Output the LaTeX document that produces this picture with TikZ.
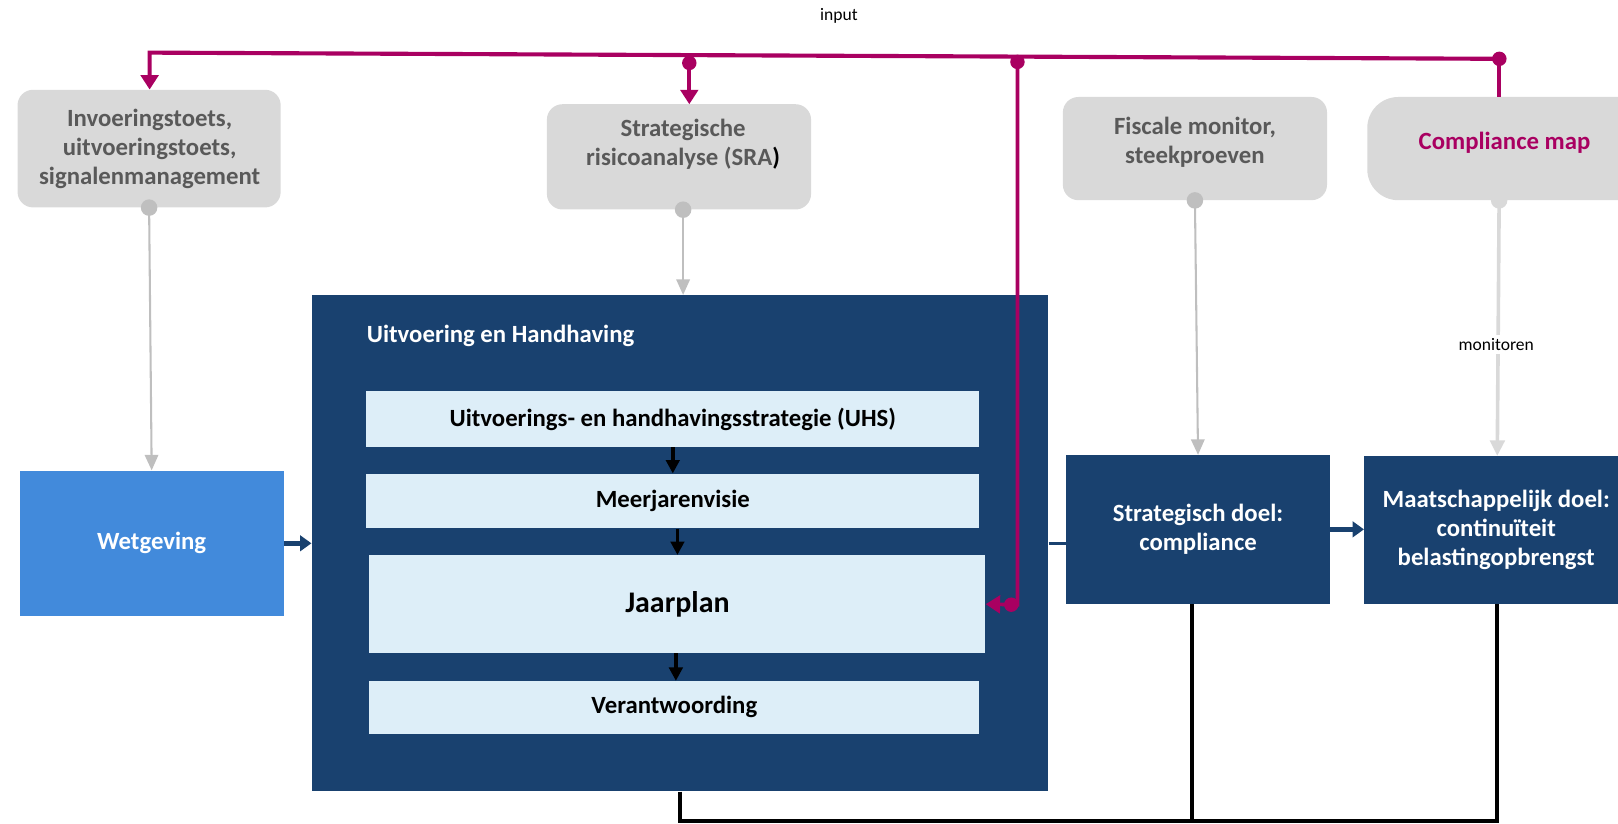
\documentclass[tikz,border=0pt]{standalone}
\usepackage{fontspec}
\setmainfont{Carlito}
\usetikzlibrary{arrows.meta,calc}
\definecolor{navy}{HTML}{19416F}
\definecolor{wetblue}{HTML}{428ADB}
\definecolor{paleblue}{HTML}{DDEEF8}
\definecolor{mag}{HTML}{A90061}
\definecolor{boxgray}{HTML}{D9D9D9}
\definecolor{txtgray}{HTML}{595959}
\definecolor{lngray}{HTML}{BFBFBF}
\begin{document}
\begin{tikzpicture}[x=1pt,y=-1pt,
  graybox/.style={fill=boxgray,draw=none,rounded corners=15pt,inner sep=0pt},
  bigtxt/.style={font=\fontsize{24}{28}\selectfont\bfseries,align=center},
  graytxt/.style={bigtxt,text=txtgray},
  navybox/.style={fill=navy,draw=none,inner sep=0pt,text=white,bigtxt},
  palebox/.style={fill=paleblue,draw=none,inner sep=0pt,bigtxt,text=black},
  smalltxt/.style={font=\fontsize{17}{20}\selectfont,text=black},
  magline/.style={draw=mag,line width=4pt},
  magarrow/.style={magline,-{Triangle[width=17pt,length=14pt]}},
  magdot/.style={fill=mag},
  grayarrow/.style={draw=lngray,line width=2pt,-{Triangle[width=13pt,length=15pt]}},
  lightarrow/.style={draw=boxgray,line width=3.5pt,-{Triangle[width=14pt,length=15pt]}},
  navyarrow/.style={draw=navy,line width=5pt,-{Triangle[width=15pt,length=11pt]}},
  blackarrow/.style={draw=black,line width=3.5pt,-{Triangle[width=13pt,length=13pt]}},
  fbline/.style={draw=black,line width=4pt}
]
\useasboundingbox (0,0) rectangle (1568,798);
\clip (0,0) rectangle (1568,798);

% top gray boxes
\node[graybox,minimum width=255pt,minimum height=114pt] (inv) at (144.5,144) {};
\node[graytxt] (invt) at (145,144) {Invoeringstoets,\\uitvoeringstoets,\\signalenmanagement};
\node[graybox,minimum width=256pt,minimum height=102pt] (sra) at (658,152) {};
\node[graytxt] (srat) at (662,140) {Strategische\\risicoanalyse (SRA\textcolor{black}{)}};
\node[graybox,minimum width=256pt,minimum height=100pt] (fis) at (1158,144) {};
\node[graytxt] (fist) at (1158,138) {Fiscale monitor,\\steekproeven};
\node[graybox,rounded corners=30pt,minimum width=310pt,minimum height=100pt] (cmbox) at (1480,144) {};
\node[bigtxt,text=mag] (cmt) at (1458,138) {Compliance map};

% lower boxes
\node[fill=wetblue,draw=none,inner sep=0pt,text=white,bigtxt,minimum width=256pt,minimum height=141pt] (wet) at (147,526.5) {Wetgeving};
\node[navybox,minimum width=714pt,minimum height=481pt] (uh) at (659,526.5) {};
\node[bigtxt,text=white,anchor=west] (uht) at (352,326) {Uitvoering en Handhaving};
\node[palebox,minimum width=594pt,minimum height=54pt] (uhs) at (652,406) {Uitvoerings- en handhavingsstrategie (UHS)};
\node[palebox,minimum width=594pt,minimum height=53pt] (mjv) at (652,485.5) {Meerjarenvisie};
\node[palebox,font=\fontsize{29}{33}\selectfont\bfseries,minimum width=597pt,minimum height=95pt] (jp) at (656.5,585.5) {Jaarplan};
\node[palebox,minimum width=591pt,minimum height=51pt] (ver) at (653.5,685.5) {Verantwoording};
\node[navybox,minimum width=256pt,minimum height=144pt] (sd) at (1161,513) {Strategisch doel:\\compliance};
\node[navybox,minimum width=258pt,minimum height=143pt] (md) at (1451,513.5) {};
\node[bigtxt,text=white] (mdt) at (1450,513.5) {Maatschappelijk doel:\\continuïteit\\belastingopbrengst};

% labels
\node[smalltxt] (inputl) at (813,15) {input};

% magenta input lines
\coordinate (cmtop) at (1453,57);
\coordinate (ltop) at (145,51);
\coordinate (sratap) at (668,53.4);
\coordinate (jptap) at (986,54.9);
\coordinate (jpbend) at (986,586);
\coordinate (cmfoot) at (1453,94);
\draw[magline] (cmfoot) -- (cmtop);
\draw[magarrow] (cmtop) -- (ltop) -- (inv.north -| ltop);
\fill[magdot] (1453,57) circle (7pt);
\draw[magarrow] (sratap) -- (668,101);
\fill[magdot] (668,61) circle (7pt);
\draw[magarrow,line width=3.5pt] (jptap) -- (jpbend) -- (jp.east);
\fill[magdot] (986,60) circle (7pt);
\fill[magdot] (980,586) circle (7pt);

% gray monitoring lines
\draw[grayarrow] (inv.south) -- (wet.north);
\fill[lngray] (inv.south) circle (8pt);
\coordinate (srab) at ($(sra.south)+(4,0)$);
\draw[grayarrow] (srab) -- ($(uh.north)+(3,0)$);
\fill[lngray] (srab) circle (8pt);
\draw[grayarrow] (fis.south) -- (sd.north);
\fill[lngray] (fis.south) circle (8pt);
\coordinate (cmb) at ($(cmbox.south west)+(128,0)$);
\draw[lightarrow] (cmb) -- (md.north);
\fill[boxgray] (cmb) circle (8pt);
\node[smalltxt,fill=white,inner sep=3pt] (monl) at (1450,334) {monitoren};

% blue flow
\draw[navyarrow] (wet.east) -- (uh.west);
\draw[draw=navy,line width=3pt] (uh.east) -- (uh.east -| sd.west);
\draw[navyarrow] (sd.east) -- (sd.east -| md.west);

% internal flow
\draw[blackarrow] (uhs.south) -- (mjv.north);
\draw[blackarrow] (mjv.south -| jp.north) -- (jp.north);
\draw[blackarrow] ($(jp.south)+(-1.5,0)$) -- ($(ver.north)+(1.5,0)$);

% feedback lines
\coordinate (fbl) at (659,796);
\coordinate (fbr) at (1451,796);
\coordinate (sdb) at ($(sd.south)+(-6,0)$);
\draw[fbline] (uh.south) -- (fbl) -- (fbr) -- (md.south);
\draw[fbline] (sdb) -- (sdb |- fbl);
\end{tikzpicture}
\end{document}
